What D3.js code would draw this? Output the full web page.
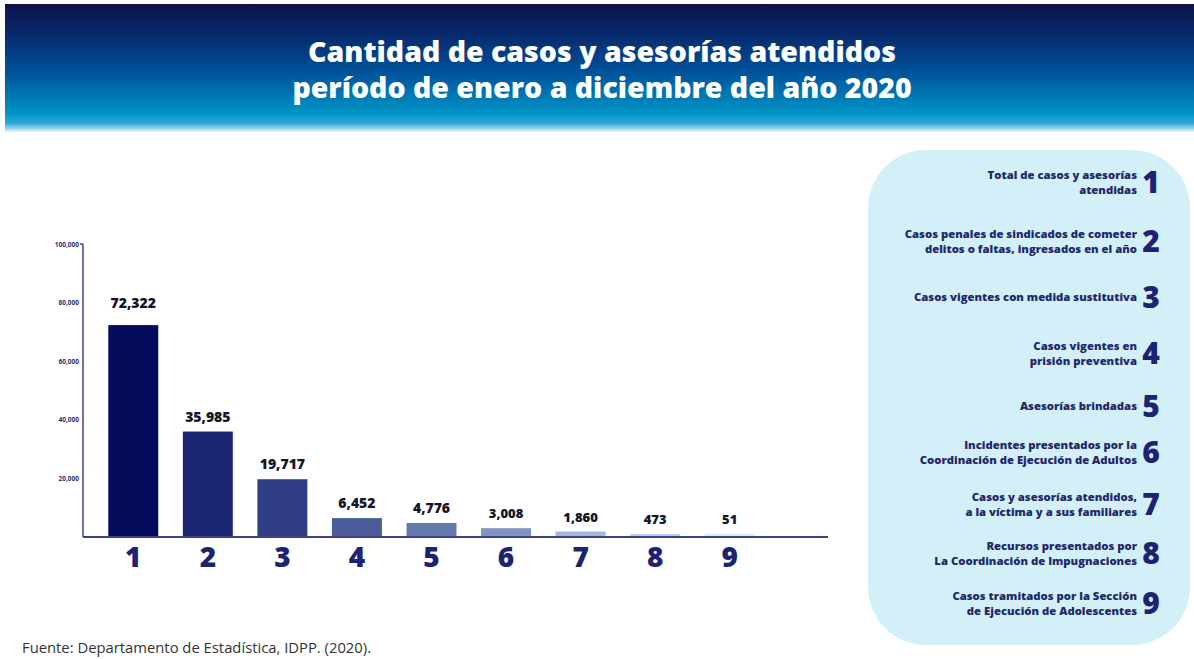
<!DOCTYPE html>
<html lang="es">
<head>
<meta charset="utf-8">
<title>Cantidad de casos y asesorías atendidos 2020</title>
<script src="https://cdn.jsdelivr.net/npm/d3@7"></script>
<style>
  html, body { margin: 0; padding: 0; background: #ffffff; }
  svg { display: block; }
  text { font-family: "Open Sans", "Noto Sans", sans-serif; }
</style>
</head>
<body>
<svg id="chart" width="1194" height="659"></svg>
<script>
// ---- data ----
const categories = ["1", "2", "3", "4", "5", "6", "7", "8", "9"];
const values = [72322, 35985, 19717, 6452, 4776, 3008, 1860, 473, 51];
const tickValues = [20000, 40000, 60000, 80000, 100000];
const descriptions = [
  ["Total de casos y asesorías", "atendidas"],
  ["Casos penales de sindicados de cometer", "delitos o faltas, ingresados en el año"],
  ["Casos vigentes con medida sustitutiva"],
  ["Casos vigentes en", "prisión preventiva"],
  ["Asesorías brindadas"],
  ["Incidentes presentados por la", "Coordinación de Ejecución de Adultos"],
  ["Casos y asesorías atendidos,", "a  la víctima y a sus familiares"],
  ["Recursos presentados por", "La Coordinación de Impugnaciones"],
  ["Casos tramitados por la Sección", "de Ejecución de Adolescentes"]
];
const titleLines = ["Cantidad de casos y asesorías atendidos", "período de enero a diciembre del año 2020"];
const sourceNote = "Fuente: Departamento de Estadística, IDPP. (2020).";

// ---- drawing ----
const svg = d3.select("#chart");
const navy = "#1d2372";

// header band
const defs = svg.append("defs");
const grad = defs.append("linearGradient")
  .attr("id", "headGrad").attr("x1", 0).attr("y1", 0).attr("x2", 0).attr("y2", 1);
[[0, "#101148"], [0.28, "#062f74"], [0.55, "#00559c"], [0.85, "#0093c6"],
 [0.93, "#2aa8d6"], [0.97, "#8fcfea"], [1, "#e6f5fb"]]
  .forEach(([o, c]) => grad.append("stop").attr("offset", o).attr("stop-color", c));

svg.append("rect").attr("x", 5).attr("y", 4).attr("width", 1189).attr("height", 128)
  .attr("fill", "url(#headGrad)");

svg.append("g").selectAll("text").data(titleLines).join("text")
  .attr("x", 602).attr("y", (d, i) => 62 + i * 36)
  .attr("text-anchor", "middle")
  .attr("fill", "#ffffff")
  .attr("font-size", 28.5).attr("font-weight", 800)
  .text(d => d);

// scales
const x = d3.scaleBand().domain(categories).range([96, 767]).paddingInner(0.33).paddingOuter(0.165);
const y = d3.scaleLinear().domain([0, 100000]).range([537, 244]);
const color = d3.scaleOrdinal().domain(categories)
  .range(["#030b5a", "#1c2572", "#2f3d84", "#4b5d99", "#6479ac", "#7d95c0", "#9fb7d8", "#bad2ea", "#d7edf7"]);

// keep the smallest bars visible
const minH = 3;
const barTop = v => Math.min(y(v), y(0) - minH);

// y axis
const yAxis = d3.axisLeft(y).tickValues(tickValues).tickFormat(d3.format(","))
  .tickSize(0).tickSizeOuter(0).tickPadding(4);
const gy = svg.append("g").attr("transform", "translate(83,0)").call(yAxis);
gy.select(".domain").remove();
gy.selectAll("text").attr("fill", "#2b2f70").attr("font-size", 6.5).attr("font-weight", 700);
svg.append("line").attr("x1", 83).attr("x2", 83).attr("y1", y(100000)).attr("y2", y(0))
  .attr("stroke", "#3d4290").attr("stroke-width", 1.5);
svg.append("line").attr("x1", 80).attr("x2", 83).attr("y1", y(100000)).attr("y2", y(100000))
  .attr("stroke", "#3d4290").attr("stroke-width", 1.5);

// bars
svg.append("g").selectAll("rect").data(values).join("rect")
  .attr("x", (d, i) => x(categories[i]))
  .attr("width", x.bandwidth())
  .attr("y", d => barTop(d))
  .attr("height", d => y(0) - barTop(d))
  .attr("fill", (d, i) => color(categories[i]));

// baseline
svg.append("line").attr("x1", 83).attr("x2", 828).attr("y1", y(0)).attr("y2", y(0))
  .attr("stroke", "#3d4290").attr("stroke-width", 2);

// value labels
svg.append("g").selectAll("text").data(values).join("text")
  .attr("x", (d, i) => x(categories[i]) + x.bandwidth() / 2)
  .attr("y", (d, i) => barTop(d) - (i === 0 ? 17 : 10))
  .attr("text-anchor", "middle")
  .attr("fill", "#151527")
  .attr("font-size", (d, i) => i < 5 ? 14 : 13).attr("font-weight", 800)
  .text(d => d3.format(",")(d));

// category numbers under the axis
const xAxis = d3.axisBottom(x).tickSize(0).tickPadding(10);
const gx = svg.append("g").attr("transform", `translate(0,${y(0)})`).call(xAxis);
gx.select(".domain").remove();
gx.selectAll("text").attr("fill", navy).attr("font-size", 28).attr("font-weight", 800)
  .attr("font-family", "'Open Sans', sans-serif");

// legend panel
svg.append("rect").attr("x", 868).attr("y", 150).attr("width", 322).attr("height", 495)
  .attr("rx", 58).attr("ry", 58).attr("fill", "#d3f0f9");

// vertical centre of each legend row
const rowCentres = [182, 241, 297, 353, 406, 452, 504, 553, 603];
const leg = svg.append("g").selectAll("g").data(categories).join("g")
  .attr("transform", (d, i) => `translate(0,${rowCentres[i]})`);
leg.append("text")
  .attr("x", 1151).attr("y", 11)
  .attr("text-anchor", "middle")
  .attr("fill", navy).attr("font-size", 30).attr("font-weight", 800)
  .text(d => d);
leg.each(function(d, i) {
  const lines = descriptions[i];
  const g = d3.select(this);
  const startY = lines.length === 1 ? 4 : -3;
  g.selectAll("text.desc").data(lines).join("text")
    .attr("class", "desc")
    .attr("x", 1137).attr("y", (t, j) => startY + j * 14.5)
    .attr("text-anchor", "end")
    .attr("fill", "#1f2868").attr("font-size", 11.3).attr("font-weight", 800)
    .text(t => t);
});

// source note
svg.append("text").attr("x", 22).attr("y", 653)
  .attr("fill", "#333333").attr("font-size", 14.8)
  .text(sourceNote);
</script>
</body>
</html>
